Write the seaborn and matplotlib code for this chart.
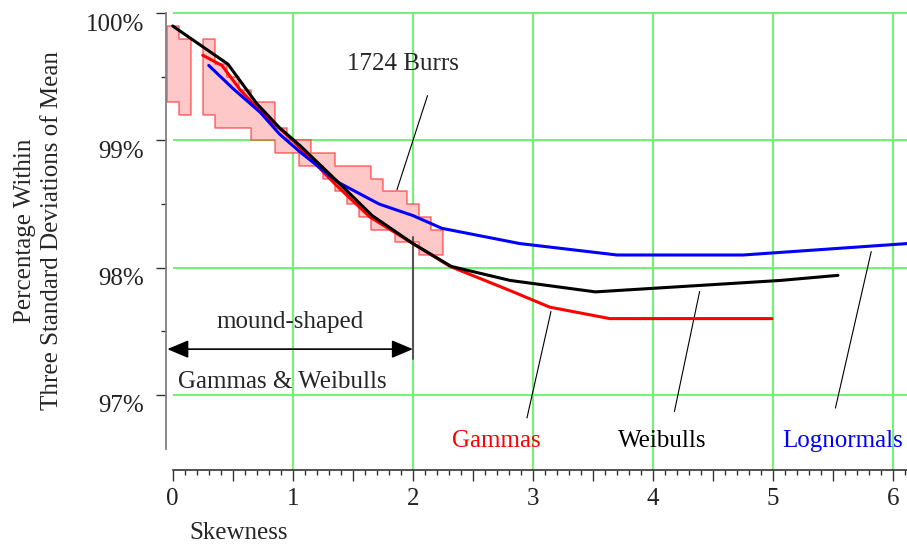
import numpy as np
import matplotlib
matplotlib.use("Agg")
import matplotlib.pyplot as plt
from matplotlib.ticker import MultipleLocator, FixedLocator, FuncFormatter
from matplotlib.transforms import ScaledTranslation
import seaborn as sns

# 1724 Burrs: spread of the percentage in each skewness bin (bins are 0.1 wide)
burr_skew = [0.0, 0.1, 0.3, 0.4, 0.5, 0.6, 0.7, 0.8, 0.9, 1.0, 1.1,
             1.2, 1.3, 1.4, 1.5, 1.6, 1.7, 1.8, 1.9, 2.0, 2.1, 2.2]
burr_hi = [99.9, 99.8, 99.8, 99.6, 99.5, 99.4, 99.3, 99.3, 99.1, 99.0, 99.0,
           98.9, 98.9, 98.8, 98.8, 98.8, 98.7, 98.6, 98.6, 98.5, 98.4, 98.3]
burr_lo = [99.3, 99.2, 99.2, 99.1, 99.1, 99.1, 99.0, 99.0, 98.9, 98.9, 98.8,
           98.8, 98.7, 98.6, 98.5, 98.4, 98.3, 98.3, 98.2, 98.2, 98.1, 98.1]

gamma_skew = [0.25, 0.41, 0.56, 0.72, 1.0, 1.36, 1.64, 2.0, 2.31, 2.81, 3.14, 3.64, 4.99]
gamma_pct = [99.67, 99.59, 99.40, 99.24, 99.0, 98.65, 98.40, 98.19, 98.01, 97.82, 97.69, 97.60, 97.60]

weibull_skew = [0.0, 0.46, 0.70, 0.89, 1.06, 1.38, 1.66, 2.0, 2.32, 2.81, 3.52, 5.06, 5.54]
weibull_pct = [99.90, 99.60, 99.29, 99.10, 98.96, 98.67, 98.41, 98.19, 98.01, 97.90, 97.81, 97.90, 97.94]

lognormal_skew = [0.30, 0.50, 0.73, 0.89, 1.06, 1.38, 1.72, 2.0, 2.24, 2.89, 3.70, 4.75, 6.12]
lognormal_pct = [99.59, 99.41, 99.22, 99.05, 98.91, 98.67, 98.50, 98.41, 98.31, 98.19, 98.10, 98.10, 98.19]

# label text, label position, leader line (from curve to label)
labels = ["Gammas", "Weibulls", "Lognormals"]
label_colors = ["#ff0000", "black", "#0000ff"]
label_x = [2.696, 4.078, 5.578]
label_y = 96.635
leader_x = [(3.15, 2.95), (4.388, 4.178), (5.817, 5.519)]
leader_y = [(97.656, 96.819), (97.813, 96.87), (98.127, 96.897)]

sns.set_style("white")
plt.rcParams["font.family"] = ["Liberation Serif", "DejaVu Serif"]
plt.rcParams["font.size"] = 18

grid_c = "#74f274"

fig = plt.figure(figsize=(9.07, 5.45), dpi=100)
ax = fig.add_axes([166 / 907, 1 - 470 / 545, 1 - 166 / 907, (470 - 12) / 545])
ax.set_xlim(-0.056, 6.115)
ax.set_ylim(96.41, 100.01)

# grid (drawn by hand so it starts at skewness 0)
for v in range(1, 7):
    ax.axvline(v, color=grid_c, lw=1.5, zorder=0)
ax.hlines([97, 98, 99, 100], 0, 6.115, color=grid_c, lw=1.5, zorder=0)

# Burr band, drawn as steps, split where a bin is missing
sk = np.array(burr_skew)
hi = np.array(burr_hi)
lo = np.array(burr_lo)
breaks = np.where(np.diff(sk) > 0.15)[0] + 1
for idx in np.split(np.arange(len(sk)), breaks):
    edges = np.append(sk[idx] - 0.05, sk[idx][-1] + 0.05)
    ax.fill_between(edges, np.append(lo[idx], lo[idx][-1]), np.append(hi[idx], hi[idx][-1]),
                    step="post", facecolor="#ffc8c8", edgecolor=(1, 0, 0, 0.55),
                    lw=1.1, zorder=2)

sns.lineplot(x=gamma_skew, y=gamma_pct, color="#ff0000", lw=2.2, ax=ax, zorder=4)
sns.lineplot(x=lognormal_skew, y=lognormal_pct, color="#0000ff", lw=2.2, ax=ax, zorder=4)
sns.lineplot(x=weibull_skew, y=weibull_pct, color="black", lw=2.2, ax=ax, zorder=5)

for name, col, lx, (x0, x1), (y0, y1) in zip(labels, label_colors, label_x, leader_x, leader_y):
    ax.plot([x0, x1], [y0, y1], color="black", lw=0.8, zorder=3)
    ax.text(lx, label_y, name, color=col, ha="center", va="center", zorder=6)

ax.text(1.915, 99.60, "1724 Burrs", ha="center", va="center")
ax.plot([2.122, 1.867], [99.353, 98.612], color="black", lw=0.8, zorder=6)

# mound-shaped range
ax.plot([2.0, 2.0], [98.245, 97.28], color="#555555", lw=1.5, zorder=3)
ax.annotate("", xy=(-0.045, 97.36), xytext=(2.0, 97.36),
            arrowprops=dict(arrowstyle="<|-|>,head_length=1.3,head_width=0.55",
                            color="black", lw=1.2, shrinkA=0, shrinkB=0, mutation_scale=10))
ax.text(0.98, 97.57, "mound-shaped", ha="center", va="center")
ax.text(0.047, 97.10, "Gammas & Weibulls", ha="left", va="center")

# axes styling
for s in ["top", "right"]:
    ax.spines[s].set_visible(False)
ax.spines["left"].set_bounds(96.575, 100)
ax.spines["left"].set_color("#808080")
ax.spines["left"].set_linewidth(1.3)
ax.spines["bottom"].set_bounds(0, 6.115)
ax.spines["bottom"].set_color("#333333")
ax.spines["bottom"].set_linewidth(1.2)

ax.xaxis.set_major_locator(MultipleLocator(0.5))
ax.xaxis.set_minor_locator(MultipleLocator(0.1))
ax.xaxis.set_major_formatter(FuncFormatter(lambda v, _: f"{v:.0f}" if abs(v - round(v)) < 1e-6 else ""))
ax.yaxis.set_major_locator(FixedLocator([97, 98, 99, 100]))
ax.yaxis.set_minor_locator(FixedLocator([97.5, 98.5, 99.5]))
ax.yaxis.set_major_formatter(FuncFormatter(lambda v, _: f"{v:.0f}%"))
# seaborn's white style switches ticks off, turn them back on
ax.tick_params(which="both", bottom=True, left=True)
ax.tick_params(axis="x", which="major", direction="out", length=8, width=1, color="#333333", pad=5)
ax.tick_params(axis="x", which="minor", direction="out", length=3.6, width=1, color="#333333")
ax.tick_params(axis="y", which="major", direction="out", length=7, width=1, color="#333333", pad=9)
ax.tick_params(axis="y", which="minor", direction="out", length=3.6, width=1, color="#333333")
ax.tick_params(labelsize=18, labelcolor="#222222")

# the percentage labels sit a little below their ticks in the original
shift = ScaledTranslation(0, -9 / 100, fig.dpi_scale_trans)
for lab in ax.get_yticklabels():
    lab.set_transform(lab.get_transform() + shift)

fig.text(238.7 / 907, 1 - 533 / 545, "Skewness", ha="center", va="center")
fig.text(38.5 / 907, 1 - 231 / 545, "Percentage Within\nThree Standard Deviations of Mean",
         rotation=90, ha="center", va="center", multialignment="center", linespacing=1.3)

fig.savefig("out.png", dpi=100)
